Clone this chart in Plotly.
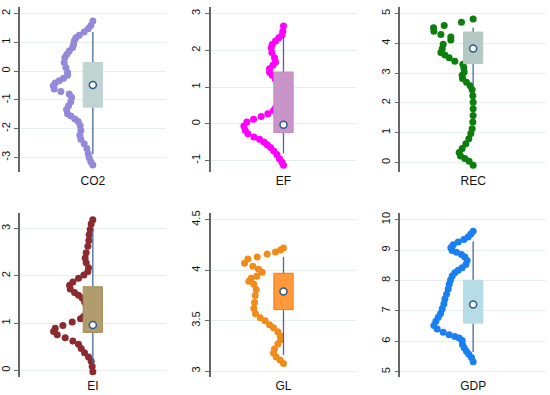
import plotly.graph_objects as go

# ---------------- data ----------------
names = ["CO2", "EF", "REC", "EI", "GL", "GDP"]

# density-dot curves: y value and density width (arbitrary units, 0 at box centre)
co2_y = [1.74, 1.59, 1.47, 1.36, 1.25, 1.16, 1.05, 0.93, 0.82, 0.70, 0.59, 0.47, 0.30, 0.13,
         -0.05, -0.14, -0.25, -0.33, -0.41, -0.51, -0.62, -0.71, -0.79, -0.91, -1.06, -1.20,
         -1.33, -1.48, -1.56, -1.66, -1.75, -1.89, -2.06, -2.23, -2.37, -2.52, -2.69, -2.86,
         -3.01, -3.15, -3.26]
co2_d = [0, 6, 14, 26, 41, 51, 56, 58, 61, 71, 78, 84, 86, 81, 76, 76, 88, 101, 113, 119, 116,
         96, 71, 64, 66, 73, 79, 76, 66, 54, 44, 38, 36, 39, 36, 26, 18, 14, 11, 6, 0]

ef_y = [2.66, 2.52, 2.41, 2.34, 2.25, 2.16, 2.07, 1.94, 1.80, 1.68, 1.59, 1.50, 1.40, 1.32,
        1.22, 1.10, 0.98, 0.86, 0.74, 0.62, 0.50, 0.43, 0.36, 0.27, 0.20, 0.12, 0.05, -0.06,
        -0.18, -0.27, -0.36, -0.42, -0.50, -0.57, -0.65, -0.74, -0.84, -0.95, -1.04, -1.13]
ef_d = [0, 2, 5, 14, 24, 34, 37, 35, 27, 24, 32, 42, 42, 34, 25, 18, 12, 8, 8, 12, 18, 24,
        30, 47, 67, 90, 110, 119, 115, 107, 89, 72, 59, 49, 39, 29, 20, 12, 5, 0]

rec_y = [-0.09, 0.04, 0.13, 0.22, 0.33, 0.47, 0.63, 0.80, 0.97, 1.13, 1.36, 1.58, 1.80, 2.02,
         2.24, 2.44, 2.58, 2.69, 2.82, 2.93, 3.04, 3.18, 3.30, 3.40, 3.52, 3.61, 3.69, 3.82,
         3.97, 4.11, 4.21, 4.30, 4.41, 4.52, 4.60, 4.71, 4.82]
rec_d = [0, 12, 25, 38, 42, 33, 22, 13, 7, 3, 1, 0, 0, 0, 1, 3, 9, 20, 32, 33, 27, 28, 31,
         55, 72, 85, 97, 93, 90, 67, 67, 97, 118, 119, 87, 35, 0]

ei_y = [3.19, 3.10, 2.98, 2.87, 2.75, 2.63, 2.49, 2.38, 2.28, 2.17, 2.09, 2.02, 1.95, 1.87,
        1.80, 1.72, 1.65, 1.59, 1.53, 1.45, 1.37, 1.29, 1.21, 1.14, 1.09, 1.02, 0.95, 0.89,
        0.82, 0.75, 0.69, 0.62, 0.55, 0.46, 0.37, 0.28, 0.19, 0.08, -0.03]
ei_d = [0, 5, 8, 11, 12, 15, 20, 23, 20, 13, 15, 27, 43, 60, 70, 68, 55, 43, 32, 25, 20, 18,
        20, 28, 37, 62, 90, 113, 118, 107, 83, 60, 43, 35, 25, 13, 5, 2, 0]

gl_y = [3.075, 3.11, 3.14, 3.18, 3.22, 3.27, 3.31, 3.35, 3.39, 3.43, 3.46, 3.50, 3.53, 3.57,
        3.62, 3.68, 3.75, 3.81, 3.86, 3.89, 3.92, 3.94, 3.98, 4.01, 4.04, 4.07, 4.11, 4.13,
        4.16, 4.18, 4.20, 4.22]
gl_d = [0, 10, 22, 30, 27, 17, 9, 10, 17, 30, 42, 55, 70, 84, 89, 87, 85, 82, 89, 104, 97,
        80, 64, 75, 92, 117, 107, 79, 49, 24, 9, 0]

gdp_y = [5.33, 5.47, 5.58, 5.68, 5.79, 5.90, 6.03, 6.11, 6.16, 6.22, 6.30, 6.41, 6.52, 6.66,
         6.79, 6.92, 7.07, 7.23, 7.39, 7.55, 7.72, 7.88, 8.02, 8.15, 8.26, 8.34, 8.42, 8.53,
         8.66, 8.77, 8.86, 8.93, 8.99, 9.08, 9.18, 9.27, 9.35, 9.43, 9.53, 9.62]
gdp_d = [0, 5, 13, 20, 27, 32, 33, 42, 55, 72, 90, 108, 118, 112, 105, 98, 93, 88, 85, 80,
         75, 72, 68, 63, 55, 45, 33, 22, 18, 25, 35, 50, 63, 67, 60, 45, 28, 15, 7, 0]

curve_y = [co2_y, ef_y, rec_y, ei_y, gl_y, gdp_y]
curve_d = [co2_d, ef_d, rec_d, ei_d, gl_d, gdp_d]

# box statistics: lower whisker, q1, median, q3, upper whisker
box_lo  = [-2.885, -0.81, 2.58, 0.14, 3.16, 5.65]
box_q1  = [-1.25, -0.24, 3.32, 0.80, 3.61, 6.60]
box_med = [-0.48, -0.03, 3.83, 0.96, 3.79, 7.21]
box_q3  = [0.30, 1.41, 4.38, 1.77, 3.97, 8.01]
box_hi  = [1.36, 2.39, 4.52, 2.96, 4.13, 9.29]

y_ticks = [[-3, -2, -1, 0, 1, 2], [-1, 0, 1, 2, 3], [0, 1, 2, 3, 4, 5],
           [0, 1, 2, 3], [3, 3.5, 4, 4.5], [5, 6, 7, 8, 9, 10]]
y_ranges = [[-3.494, 2.23], [-1.306, 3.18], [-0.311, 5.222],
            [-0.146, 3.33], [2.941, 4.566], [4.826, 10.217]]

# ---------------- styles ----------------
dot_colors = ["#9489d8", "#ff00ff", "#0d7d0d", "#8c2a30", "#f08c1c", "#1a80f2"]
box_fill   = ["#c0d4d1", "#c995c9", "#b4c8c4", "#b09c6c", "#ff9a3c", "#b6dce6"]
box_line   = ["#c0d4d1", "#c48ac4", "#b4c8c4", "#a89060", "#f07f10", "#b6dce6"]
whisk_col = "#4a6a94"
med_col = "#2c5a8a"
x_domains = [[19/550, 165/550], [210/550, 356/550], [400/550, 546/550]]
y_domains = [[1 - 170/395, 1 - 4/395], [1 - 377/395, 1 - 211.7/395]]
half_w = 29

fig = go.Figure()
for i, nm in enumerate(names):
    r, c = divmod(i, 3)
    sfx = "" if i == 0 else str(i + 1)
    xa, ya = "x" + sfx, "y" + sfx
    # density dots
    fig.add_trace(go.Scatter(x=[-d for d in curve_d[i]], y=curve_y[i], mode="markers",
                             marker=dict(size=7, color=dot_colors[i], line=dict(width=0)),
                             xaxis=xa, yaxis=ya, showlegend=False, hoverinfo="skip"))
    # whisker
    fig.add_trace(go.Scatter(x=[0, 0], y=[box_lo[i], box_hi[i]], mode="lines",
                             line=dict(color=whisk_col, width=1.3),
                             xaxis=xa, yaxis=ya, showlegend=False, hoverinfo="skip"))
    # box
    fig.add_trace(go.Scatter(x=[-half_w, half_w, half_w, -half_w, -half_w],
                             y=[box_q1[i], box_q1[i], box_q3[i], box_q3[i], box_q1[i]],
                             mode="lines", fill="toself", fillcolor=box_fill[i],
                             line=dict(color=box_line[i], width=1),
                             xaxis=xa, yaxis=ya, showlegend=False, hoverinfo="skip"))
    # median
    fig.add_trace(go.Scatter(x=[0], y=[box_med[i]], mode="markers",
                             marker=dict(size=7, color="white", line=dict(color=med_col, width=1.5)),
                             xaxis=xa, yaxis=ya, showlegend=False, hoverinfo="skip"))

    fig.layout["xaxis" + sfx] = dict(domain=x_domains[c], range=[-219, 219], anchor=ya,
                                     tickvals=[0], ticktext=[nm], ticks="", ticklen=0,
                                     showline=False, showgrid=False,
                                     zeroline=False, fixedrange=True,
                                     tickfont=dict(size=12, color="#111"))
    fig.layout["yaxis" + sfx] = dict(domain=y_domains[r], range=y_ranges[i], anchor=xa,
                                     tickvals=y_ticks[i], ticktext=[("%g" % v) for v in y_ticks[i]],
                                     tickangle=-90, ticks="outside", ticklen=4, tickwidth=1.2,
                                     tickcolor="#666", showline=True, linecolor="#666",
                                     linewidth=1.5, showgrid=True, gridcolor="#e6eeee",
                                     gridwidth=1, zeroline=False, fixedrange=True,
                                     tickfont=dict(size=11, color="#111"))

fig.update_layout(width=550, height=395, margin=dict(l=0, r=0, t=0, b=0),
                  paper_bgcolor="white", plot_bgcolor="white",
                  font=dict(family="Liberation Sans, Arial, sans-serif"))

fig.write_html("out.html", config={"displayModeBar": False},
               post_script="document.body.style.margin='0';")
